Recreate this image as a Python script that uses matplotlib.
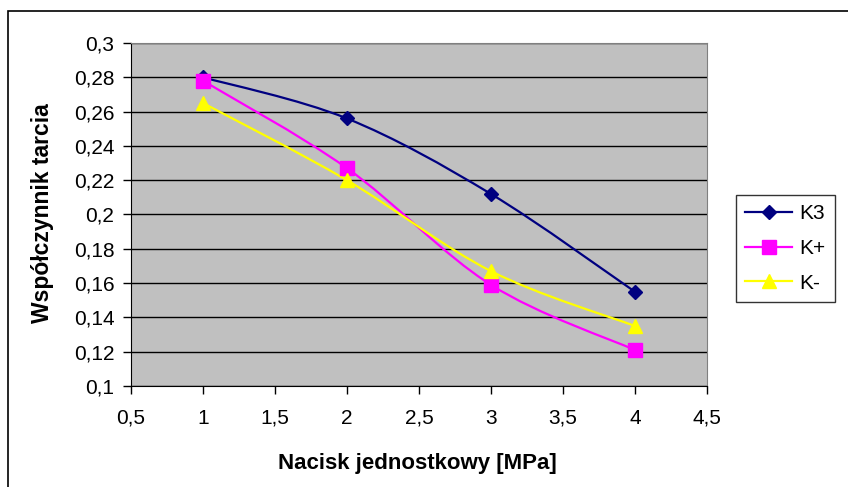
import matplotlib.pyplot as plt
import numpy as np
from matplotlib.path import Path
from matplotlib.patches import PathPatch, Rectangle
from matplotlib.ticker import FuncFormatter, MultipleLocator

plt.rcParams['font.family'] = ['Liberation Sans', 'DejaVu Sans']

# Dane
nacisk = [1, 2, 3, 4]
k3 = [0.280, 0.256, 0.212, 0.155]
k_plus = [0.278, 0.227, 0.159, 0.121]
k_minus = [0.265, 0.220, 0.167, 0.135]

serie = [
    ("K3", k3, "#000080", "D", 7),
    ("K+", k_plus, "#FF00FF", "s", 10),
    ("K-", k_minus, "#FFFF00", "^", 10),
]


def gladka_linia(ax, x, y, color):
    """Linia wygładzona jak w Excelu (krzywe Beziera przez punkty)."""
    x = np.asarray(x, float)
    y = np.asarray(y, float)
    n = len(x)
    verts = [(x[0], y[0])]
    codes = [Path.MOVETO]
    for i in range(n - 1):
        i0 = max(i - 1, 0)
        i3 = min(i + 2, n - 1)
        c1 = (x[i] + (x[i + 1] - x[i0]) / 6, y[i] + (y[i + 1] - y[i0]) / 6)
        c2 = (x[i + 1] - (x[i3] - x[i]) / 6, y[i + 1] - (y[i3] - y[i]) / 6)
        verts += [c1, c2, (x[i + 1], y[i + 1])]
        codes += [Path.CURVE4] * 3
    ax.add_patch(PathPatch(Path(verts, codes), fill=False, edgecolor=color,
                           lw=1.6, zorder=3))


fig = plt.figure(figsize=(8.48, 4.87), dpi=100)
ax = fig.add_axes([0.1545, 0.2074, 0.679, 0.7043])
ax.set_facecolor("#C0C0C0")

for nazwa, wart, kolor, marker, ms in serie:
    gladka_linia(ax, nacisk, wart, kolor)
    ax.plot(nacisk, wart, linestyle="none", marker=marker, color=kolor,
            markersize=ms, zorder=4)

ax.set_xlim(0.5, 4.5)
ax.set_ylim(0.1, 0.3)
ax.xaxis.set_major_locator(MultipleLocator(0.5))
ax.yaxis.set_major_locator(MultipleLocator(0.02))
fmt = FuncFormatter(lambda v, p: ("%g" % round(v, 3)).replace(".", ","))
ax.xaxis.set_major_formatter(fmt)
ax.yaxis.set_major_formatter(fmt)
ax.grid(axis="y", color="black", lw=1)
ax.set_axisbelow(True)
ax.tick_params(direction="out", length=5.5, width=1, labelsize=15, colors="black")
ax.tick_params(axis="x", pad=11)
ax.tick_params(axis="y", pad=6.5)

for s in ["top", "right"]:
    ax.spines[s].set_color("#808080")
for s in ["left", "bottom"]:
    ax.spines[s].set_color("black")

ax.set_xlabel("Nacisk jednostkowy [MPa]", fontsize=16, fontweight="bold", va="top")
ax.set_ylabel("Współczynnik tarcia", fontsize=16.5, fontweight="bold", va="center")
ax.xaxis.set_label_coords(0.498, -0.195)
ax.yaxis.set_label_coords(-0.1545, 0.503)

uchwyty = [plt.Line2D([], [], color=k, marker=m, markersize=ms, lw=1.6)
           for _, _, k, m, ms in serie]
leg = fig.legend(uchwyty, [s[0] for s in serie], loc="upper left",
                 bbox_to_anchor=(736 / 848, 1 - 195 / 487), borderaxespad=0,
                 fontsize=15, frameon=True, fancybox=False, edgecolor="black",
                 handlelength=2.25, handletextpad=0.33, borderpad=0.45,
                 labelspacing=0.75)
leg.get_frame().set_linewidth(1)

# ramka wykresu
fig.patches.append(Rectangle((8 / 848, -0.05), 1.0, 1 - 11 / 487 + 0.05,
                             transform=fig.transFigure, fill=False,
                             edgecolor="black", lw=1.2, clip_on=False))

plt.savefig("out.png", dpi=100)
